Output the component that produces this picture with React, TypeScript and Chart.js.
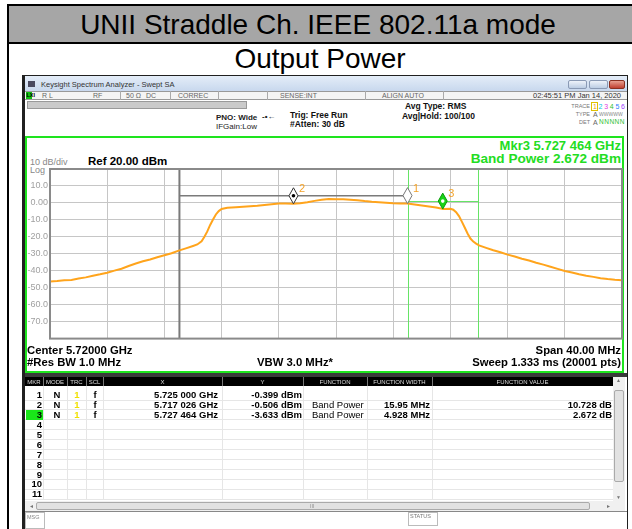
import React, { useEffect, useRef } from "react";
import { Chart, registerables } from "chart.js";
Chart.register(...registerables);

// ---------- data ----------
const titleText = "UNII Straddle Ch. IEEE 802.11a mode";
const subtitleText = "Output Power";

const spanStartMHz = 5700;
const spanStopMHz = 5740;
const yTop = 20;
const yBottom = -80;
const yTickLabels = ["10.0", "0.00", "-10.0", "-20.0", "-30.0", "-40.0", "-50.0", "-60.0", "-70.0"];

const freqMHz = [
  5700, 5700.5, 5701, 5701.5, 5702, 5702.5, 5703, 5703.5, 5704, 5704.5, 5705, 5705.5, 5706, 5706.5, 5707, 5707.5,
  5708, 5708.5, 5709, 5709.5, 5710, 5710.3, 5710.6, 5710.8, 5711, 5711.2, 5711.4, 5711.6, 5711.8, 5712, 5712.4,
  5713, 5713.5, 5714, 5714.5, 5715, 5715.5, 5716, 5716.5, 5717, 5717.5, 5718, 5718.5, 5719, 5719.5, 5720, 5720.5,
  5721, 5721.5, 5722, 5722.5, 5723, 5723.5, 5724, 5724.5, 5725, 5725.5, 5726, 5726.5, 5727, 5727.5, 5728, 5728.2,
  5728.4, 5728.6, 5728.8, 5729, 5729.2, 5729.4, 5729.6, 5729.8, 5730, 5730.5, 5731, 5731.5, 5732, 5732.5, 5733,
  5733.5, 5734, 5734.5, 5735, 5735.5, 5736, 5736.5, 5737, 5737.5, 5738, 5738.5, 5739, 5739.5, 5740,
];
const traceDbm = [
  -46.3, -46.0, -45.6, -45.4, -44.6, -43.9, -42.9, -42.1, -41.2, -39.9, -38.8, -37.2, -35.7, -34.4, -33.4, -32.0,
  -30.9, -29.7, -28.1, -26.8, -25.4, -24.5, -22.6, -20.0, -16.8, -13.0, -9.8, -6.8, -4.8, -3.6, -2.9,
  -2.6, -2.3, -2.0, -1.7, -1.2, -0.8, -0.4, -0.3, -0.5, -0.2, 0.4, 1.2, 1.9, 2.3, 2.2, 2.1,
  1.9, 1.6, 1.1, 0.7, 0.4, 0.1, -0.2, -0.3, -0.4, -0.9, -1.5, -2.1, -2.7, -3.6, -3.5, -4.0,
  -5.5, -7.8, -11.0, -14.5, -18.0, -21.0, -22.8, -24.0, -25.0, -26.5, -27.9, -29.1, -30.5, -31.6, -32.9,
  -34.0, -35.3, -36.4, -37.6, -38.9, -40.1, -41.0, -42.0, -42.9, -43.6, -44.4, -44.9, -45.3, -45.6,
];

const markerNums = [1, 2, 3];
const markerFreqMHz = [5725.0, 5717.026, 5727.464];
const markerDbm = [-0.399, -0.506, -3.633];
const markerXText = ["5.725 000 GHz", "5.717 026 GHz", "5.727 464 GHz"];
const markerYText = ["-0.399 dBm", "-0.506 dBm", "-3.633 dBm"];
const markerFunction = ["", "Band Power", "Band Power"];
const functionWidthMHz = [0, 15.95, 4.928];
const functionWidthText = ["", "15.95 MHz", "4.928 MHz"];
const functionValueText = ["", "10.728 dB", "2.672 dB"];
const bandLevelDbm = [0, 4.2, 1.0];

const FONT = "'Liberation Sans', Arial, sans-serif";

// ---------- helpers ----------
type TP = {
  x?: number; xr?: number; xc?: number; y: number; s: number; b?: boolean; c?: string; children: React.ReactNode; ls?: number;
};
function T({ x, xr, xc, y, s, b, c, children, ls }: TP) {
  const st: React.CSSProperties = {
    position: "absolute",
    top: y - 0.49 * s,
    fontSize: s,
    lineHeight: `${s}px`,
    fontWeight: b ? "bold" : "normal",
    color: c || "#000",
    whiteSpace: "nowrap",
    fontFamily: FONT,
    letterSpacing: ls,
  };
  if (x !== undefined) st.left = x;
  if (xr !== undefined) st.right = 632 - xr;
  if (xc !== undefined) {
    st.left = xc - 300;
    st.width = 600;
    st.textAlign = "center";
  }
  return <div style={st}>{children}</div>;
}
function Box(p: { x: number; y: number; w: number; h: number; bg?: string; style?: React.CSSProperties }) {
  return (
    <div
      style={{ position: "absolute", left: p.x, top: p.y, width: p.w, height: p.h, background: p.bg, boxSizing: "border-box", ...p.style }}
    />
  );
}

function SpectrumChart() {
  const ref = useRef<HTMLCanvasElement>(null);
  useEffect(() => {
    if (!ref.current) return;
    const markerPlugin = {
      id: "markers",
      beforeDatasetsDraw(chart: any) {
        const { ctx, chartArea: ca, scales } = chart;
        const xs = scales.x, ys = scales.y;
        ctx.save();
        for (let i = 1; i < 3; i++) {
          const l = xs.getPixelForValue(markerFreqMHz[i] - functionWidthMHz[i] / 2);
          const r = xs.getPixelForValue(markerFreqMHz[i] + functionWidthMHz[i] / 2);
          const ly = ys.getPixelForValue(bandLevelDbm[i]);
          if (i === 1) {
            ctx.strokeStyle = "#7a7a7a";
            ctx.lineWidth = 2;
            ctx.beginPath();
            ctx.moveTo(l, ca.top);
            ctx.lineTo(l, ca.bottom);
            ctx.stroke();
            ctx.lineWidth = 1.5;
            ctx.beginPath();
            ctx.moveTo(l, ly);
            ctx.lineTo(r, ly);
            ctx.stroke();
          } else {
            ctx.strokeStyle = "#66e466";
            ctx.lineWidth = 1;
            ctx.beginPath();
            ctx.moveTo(Math.round(l) + 0.5, ca.top);
            ctx.lineTo(Math.round(l) + 0.5, ca.bottom);
            ctx.moveTo(Math.round(r) + 0.5, ca.top);
            ctx.lineTo(Math.round(r) + 0.5, ca.bottom);
            ctx.moveTo(l, Math.round(ly) + 0.5);
            ctx.lineTo(r, Math.round(ly) + 0.5);
            ctx.stroke();
          }
        }
        ctx.restore();
      },
      afterDatasetsDraw(chart: any) {
        const { ctx, chartArea: ca, scales } = chart;
        const xs = scales.x, ys = scales.y;
        ctx.save();
        ctx.strokeStyle = "#8a8a8a";
        ctx.lineWidth = 2;
        ctx.strokeRect(ca.left, ca.top, ca.right - ca.left, ca.bottom - ca.top);
        for (let i = 0; i < markerNums.length; i++) {
          const px = xs.getPixelForValue(markerFreqMHz[i]);
          const py = ys.getPixelForValue(markerDbm[i]);
          const active = i === 2;
          ctx.beginPath();
          ctx.moveTo(px, py - 16);
          ctx.lineTo(px + 4.5, py - 8);
          ctx.lineTo(px, py);
          ctx.lineTo(px - 4.5, py - 8);
          ctx.closePath();
          ctx.fillStyle = active ? "#19d419" : "#ffffff";
          ctx.fill();
          ctx.strokeStyle = active ? "#0a9a0a" : i === 1 ? "#333" : "#777";
          ctx.lineWidth = 1;
          ctx.stroke();
          if (i !== 0) {
            ctx.beginPath();
            ctx.arc(px, py - 8, 1.8, 0, Math.PI * 2);
            ctx.fillStyle = active ? "#ffffff" : "#000";
            ctx.fill();
          }
          ctx.fillStyle = "#f3a22a";
          ctx.font = `11px ${FONT}`;
          ctx.textBaseline = "middle";
          ctx.fillText(String(markerNums[i]), px + 5.5, py - 15);
        }
        ctx.restore();
      },
    };
    const chart = new Chart(ref.current, {
      type: "line",
      data: {
        datasets: [
          {
            data: freqMHz.map((f, i) => ({ x: f, y: traceDbm[i] })),
            borderColor: "#ffa41c",
            borderWidth: 2,
            pointRadius: 0,
            tension: 0,
          },
        ],
      },
      options: {
        animation: false,
        responsive: false,
        maintainAspectRatio: false,
        layout: { padding: { left: 0, right: 2, top: 9, bottom: 4 } },
        plugins: { legend: { display: false }, tooltip: { enabled: false } },
        scales: {
          x: {
            type: "linear",
            min: spanStartMHz,
            max: spanStopMHz,
            ticks: { display: false, stepSize: 4 },
            grid: { color: "#c6c6c6", lineWidth: 1, drawTicks: false },
            border: { display: false },
            afterFit: (a: any) => {
              a.height = 0;
            },
          },
          y: {
            min: yBottom,
            max: yTop,
            ticks: {
              stepSize: 10,
              padding: 2,
              color: "#a0a0a0",
              font: { size: 9, family: FONT },
              callback: (v: any) => {
                const idx = Math.round((yTop - 10 - Number(v)) / 10);
                return idx >= 0 && idx < yTickLabels.length ? yTickLabels[idx] : "";
              },
            },
            grid: { color: "#c6c6c6", lineWidth: 1, drawTicks: false },
            border: { display: false },
            afterFit: (a: any) => {
              a.width = 24;
            },
          },
        },
      },
      plugins: [markerPlugin],
    } as any);
    return () => chart.destroy();
  }, []);
  return (
    <canvas ref={ref} width={598} height={186} style={{ position: "absolute", left: 26, top: 160, width: 598, height: 186 }} />
  );
}

const colX = [25, 43, 67, 86, 103, 222, 303, 367, 432, 613];
const headers = ["MKR", "MODE", "TRC", "SCL", "X", "Y", "FUNCTION", "FUNCTION WIDTH", "FUNCTION VALUE"];

export default function App() {
  const rows = Array.from({ length: 11 }, (_, i) => i);
  const traceNums = ["1", "2", "3", "4", "5", "6"];
  const traceCols = ["#f0a000", "#00c8e0", "#e040e0", "#30c030", "#3080ff", "#a040ff"];
  return (
    <div style={{ position: "absolute", left: 0, top: 0, width: 632, height: 529, overflow: "hidden", background: "#fff", fontFamily: FONT }}>
      {/* document table */}
      <Box x={7} y={4} w={625} h={2} bg="#000" />
      <Box x={7} y={4} w={2} h={525} bg="#000" />
      <Box x={9} y={6} w={623} h={36} bg="#a6a6a6" />
      <Box x={9} y={42} w={623} h={2} bg="#000" />
      <T xc={318} y={24.5} s={28}>{titleText}</T>
      <T xc={320} y={59} s={28}>{subtitleText}</T>

      {/* analyzer screenshot */}
      <Box x={22} y={75} w={606} h={454} bg="#202020" />
      <Box x={25} y={76} w={602} h={453} bg="#ffffff" />
      {/* title bar */}
      <Box x={25} y={76} w={602} h={15} style={{ background: "linear-gradient(#e4edf8, #c8d8ee)" }} />
      <Box x={28} y={81} w={7} h={6} bg="#4a4a60" />
      <T x={41} y={84.5} s={7.5} c="#333">Keysight Spectrum Analyzer - Swept SA</T>
      <Box x={568} y={80} w={19} h={9} style={{ background: "linear-gradient(#eef3fa,#bccde4)", border: "1px solid #8a9ab5", borderRadius: 2 }} />
      <Box x={589} y={80} w={19} h={9} style={{ background: "linear-gradient(#eef3fa,#bccde4)", border: "1px solid #8a9ab5", borderRadius: 2 }} />
      <Box x={609} y={80} w={16} h={9} style={{ background: "linear-gradient(#e8a090,#c04030)", border: "1px solid #8a3020", borderRadius: 2 }} />
      {/* status row */}
      <Box x={25} y={91} w={602} h={9} style={{ background: "#f4f4f4", borderTop: "1px solid #999", borderBottom: "1px solid #999" }} />
      <Box x={26} y={92} w={6} h={7} bg="#10c010" />
      <T x={26.5} y={95.5} s={5.5} b>LXI</T>
      <T x={42} y={95.5} s={7} c="#666">R L</T>
      <T x={93} y={95.5} s={7} c="#666">RF</T>
      <Box x={120} y={91} w={1} h={9} bg="#aaa" />
      <T x={126} y={95.5} s={7} c="#666">50 Ω</T>
      <T x={146} y={95.5} s={7} c="#666">DC</T>
      <Box x={170} y={91} w={1} h={9} bg="#aaa" />
      <T x={178} y={95.5} s={7} c="#666">CORREC</T>
      <Box x={218} y={91} w={1} h={9} bg="#aaa" />
      <Box x={267} y={91} w={1} h={9} bg="#aaa" />
      <T x={280} y={95.5} s={7} c="#666">SENSE:INT</T>
      <Box x={365} y={91} w={1} h={9} bg="#aaa" />
      <T x={382} y={95.5} s={7} c="#666">ALIGN AUTO</T>
      <Box x={443} y={91} w={1} h={9} bg="#aaa" />
      <T xr={621} y={95.5} s={7.5} c="#333">02:45:51 PM Jan 14, 2020</T>
      {/* info area */}
      <Box x={27} y={101} w={220} h={8} style={{ background: "#cacaca", border: "1px solid #999" }} />
      <T x={216} y={117.5} s={8} b c="#222">PNO: Wide</T>
      <T x={216} y={126.5} s={8} c="#222">IFGain:Low</T>
      <T x={262} y={117} s={8} b c="#222">{"-\u2022\u2190"}</T>
      <T x={290} y={115.5} s={8.5} b c="#111">Trig: Free Run</T>
      <T x={290} y={124.5} s={8.5} b c="#111">#Atten: 30 dB</T>
      <T x={405} y={106.5} s={8.5} b c="#111">Avg Type: RMS</T>
      <T x={402} y={116.5} s={8.5} b c="#111">Avg|Hold: 100/100</T>
      <T xr={590} y={106.5} s={5.5} c="#777">TRACE</T>
      <T xr={590} y={114.5} s={5.5} c="#777">TYPE</T>
      <T xr={590} y={122.5} s={5.5} c="#777">DET</T>
      <Box x={591} y={102} w={7} h={9} style={{ border: "1px solid #e0c000" }} />
      {traceNums.map((n, i) => (
        <T key={n} x={593 + i * 5.6} y={106.5} s={7} c={traceCols[i]}>{n}</T>
      ))}
      <T x={593} y={114.5} s={7} c="#666">A</T>
      <T x={599} y={114.5} s={5} c="#888">WWWWW</T>
      <T x={593} y={122.5} s={7} c="#666">A</T>
      <T x={599} y={122.5} s={6.5} c="#30c030" ls={0.5}>NNNNN</T>

      {/* green plot frame */}
      <Box x={25} y={136} w={599} h={237} style={{ border: "2px solid #1ee41e" }} />
      <T xr={621} y={145} s={13} b c="#22dd22">Mkr3 5.727 464 GHz</T>
      <T xr={621} y={158.5} s={13.6} b c="#22dd22">Band Power 2.672 dBm</T>
      <T x={30} y={162} s={9} c="#888">10 dB/div</T>
      <T x={88} y={162} s={11.5} b>Ref 20.00 dBm</T>
      <T x={30} y={170} s={9} c="#888">Log</T>
      <SpectrumChart />
      <T x={27} y={351} s={11.3} b>Center 5.72000 GHz</T>
      <T xr={621} y={351} s={11.3} b>Span 40.00 MHz</T>
      <T x={27} y={363} s={11.3} b>#Res BW 1.0 MHz</T>
      <T x={257} y={363} s={11.3} b>VBW 3.0 MHz*</T>
      <T xr={621} y={363} s={11.3} b>Sweep  1.333 ms (20001 pts)</T>

      {/* marker table */}
      <Box x={25} y={373} w={602} h={4} bg="#3a3a3a" />
      <Box x={25} y={377} w={588} h={9} bg="#000" />
      {colX.slice(1, -1).map((cx) => (
        <Box key={"hs" + cx} x={cx} y={377} w={1} h={9} bg="#777" />
      ))}
      {headers.map((h, i) => (
        <T key={h} xc={(colX[i] + colX[i + 1]) / 2} y={381.5} s={6} c="#ddd">{h}</T>
      ))}
      {colX.slice(1, -1).map((cx) => (
        <Box key={"vs" + cx} x={cx} y={386} w={1} h={114} bg="#e6e6e6" />
      ))}
      {rows.map((r) => (
        <Box key={"rl" + r} x={25} y={399.5 + r * 9.9} w={588} h={1} bg="#e6e6e6" />
      ))}
      <Box x={26} y={410} w={17} h={10} bg="#19e619" />
      {rows.map((r) => (
        <T key={"n" + r} xr={42} y={395 + r * 9.9} s={9.5} b>{String(r + 1)}</T>
      ))}
      {markerNums.map((m, i) => (
        <React.Fragment key={"m" + m}>
          <T xc={57} y={395 + i * 9.9} s={9.5} b>N</T>
          <T xc={77} y={395 + i * 9.9} s={9.5} b c="#f0e000">1</T>
          <T xc={95} y={395 + i * 9.9} s={9.5} b>f</T>
          <T xr={218} y={395 + i * 9.9} s={9.5} b>{markerXText[i]}</T>
          <T xr={302} y={395 + i * 9.9} s={9.5} b>{markerYText[i]}</T>
          <T x={312} y={395 + i * 9.9} s={9.5}>{markerFunction[i]}</T>
          <T xr={430} y={395 + i * 9.9} s={9.5} b>{functionWidthText[i]}</T>
          <T xr={612} y={395 + i * 9.9} s={9.5} b>{functionValueText[i]}</T>
        </React.Fragment>
      ))}
      {/* vertical scrollbar */}
      <Box x={613} y={377} w={12} h={125} bg="#f0f0f0" />
      <Box x={614} y={390} w={10} h={92} style={{ background: "#e2e2e2", border: "1px solid #aaa", borderRadius: 2 }} />
      <T x={616} y={380} s={5} c="#777">▲</T>
      <T x={616} y={497} s={5} c="#777">▼</T>
      {/* horizontal scrollbar */}
      <Box x={25} y={501} w={600} h={10} bg="#f0f0f0" />
      <Box x={36} y={502} w={554} h={8} style={{ background: "#e2e2e2", border: "1px solid #aaa", borderRadius: 2 }} />
      <T x={29} y={506} s={5} c="#777">◄</T>
      <T x={606} y={506} s={5} c="#777">►</T>
      <T x={310} y={506} s={5} c="#888">III</T>
      {/* bottom bar */}
      <Box x={25} y={511} w={602} h={18} style={{ background: "#fff", borderTop: "1px solid #888" }} />
      <Box x={25} y={512} w={20} h={17} style={{ border: "1px solid #bbb" }} />
      <T x={27} y={518} s={5.5} c="#888">MSG</T>
      <Box x={408} y={512} w={30} h={14} style={{ border: "1px solid #bbb" }} />
      <T x={410} y={517} s={5.5} c="#777">STATUS</T>
    </div>
  );
}
